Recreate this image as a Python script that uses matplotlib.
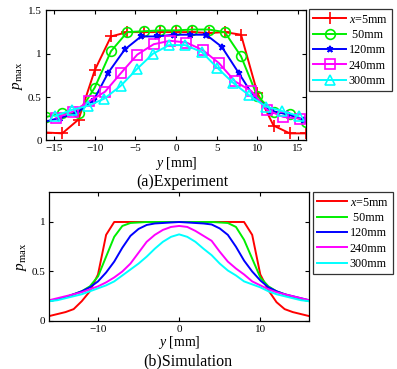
import matplotlib
matplotlib.use("Agg")
import matplotlib.pyplot as plt

plt.rcParams['font.family'] = ['Liberation Serif', 'DejaVu Serif']
plt.rcParams['mathtext.fontset'] = 'custom'
plt.rcParams['mathtext.rm'] = 'Liberation Serif'
plt.rcParams['mathtext.it'] = 'Liberation Serif:italic'

# ---------------- data: (a) experiment ----------------
labels = [r'$x$=5mm', ' 50mm', '120mm', '240mm', '300mm']

exp_y_5 = [-16, -14, -12, -10, -8, -6, -4, -2, 0, 2, 4, 6, 8, 10, 12, 14, 16]
exp_p_5 = [0.09, 0.08, 0.24, 0.81, 1.20, 1.25, 1.25, 1.25, 1.25, 1.25, 1.24, 1.25, 1.22, 0.55, 0.17, 0.08, 0.08]

exp_y_50 = [-16, -14, -12, -10, -8, -6, -4, -2, 0, 2, 4, 6, 8, 10, 12, 14, 16]
exp_p_50 = [0.27, 0.31, 0.31, 0.61, 1.03, 1.25, 1.26, 1.27, 1.27, 1.28, 1.28, 1.25, 0.97, 0.51, 0.33, 0.30, 0.21]

exp_y_120 = [-16.3, -14.3, -12.3, -10.1, -8.35, -6.3, -4.3, -2.3, -0.28, 1.76, 3.7, 5.63, 7.7, 9.6, 11.7, 13.7, 15.7]
exp_p_120 = [0.21, 0.26, 0.31, 0.47, 0.78, 1.05, 1.20, 1.20, 1.22, 1.22, 1.22, 1.08, 0.78, 0.50, 0.34, 0.30, 0.24]

exp_y_240 = [-14.73, -12.73, -10.7, -8.75, -6.75, -4.77, -2.75, -0.74, 1.27, 3.33, 5.3, 7.27, 9.25, 11.2, 13.2, 15.25]
exp_p_240 = [0.26, 0.33, 0.45, 0.56, 0.78, 0.99, 1.11, 1.15, 1.13, 1.04, 0.89, 0.68, 0.57, 0.35, 0.27, 0.25]

exp_y_300 = [-14.9, -12.86, -10.8, -8.85, -6.8, -4.85, -2.84, -0.86, 1.11, 3.17, 5.05, 7.07, 9.0, 11.06, 13.0, 15.08]
exp_p_300 = [0.28, 0.35, 0.40, 0.48, 0.63, 0.82, 1.00, 1.10, 1.10, 1.02, 0.84, 0.66, 0.52, 0.39, 0.34, 0.28]

# ---------------- data: (b) simulation ----------------
sim_y = [-16, -15, -14, -13, -12, -11, -10, -9, -8, -7, -6, -5, -4, -3, -2, -1, 0,
         1, 2, 3, 4, 5, 6, 7, 8, 9, 10, 11, 12, 13, 14, 15, 16]
sim_p_5 = [0.05, 0.07, 0.09, 0.12, 0.20, 0.30, 0.47, 0.87, 1.00, 1.00, 1.00, 1.00, 1.00, 1.00, 1.00, 1.00, 1.00,
           1.00, 1.00, 1.00, 1.00, 1.00, 1.00, 1.00, 1.00, 0.87, 0.47, 0.31, 0.19, 0.12, 0.09, 0.07, 0.05]
sim_p_50 = [0.20, 0.22, 0.24, 0.27, 0.30, 0.35, 0.45, 0.65, 0.85, 0.96, 0.99, 0.995, 1.00, 1.00, 1.00, 1.00, 1.00,
            1.00, 1.00, 1.00, 1.00, 0.995, 0.99, 0.95, 0.82, 0.63, 0.44, 0.35, 0.30, 0.27, 0.24, 0.22, 0.20]
sim_p_120 = [0.20, 0.22, 0.24, 0.27, 0.30, 0.34, 0.40, 0.49, 0.60, 0.74, 0.86, 0.93, 0.97, 0.985, 0.99, 0.995, 1.00,
             0.995, 0.99, 0.985, 0.975, 0.935, 0.87, 0.75, 0.61, 0.50, 0.41, 0.34, 0.30, 0.27, 0.25, 0.23, 0.21]
sim_p_240 = [0.21, 0.23, 0.25, 0.27, 0.29, 0.32, 0.35, 0.39, 0.44, 0.50, 0.58, 0.69, 0.80, 0.87, 0.92, 0.95, 0.96,
             0.95, 0.91, 0.86, 0.81, 0.70, 0.60, 0.53, 0.47, 0.40, 0.36, 0.32, 0.29, 0.27, 0.25, 0.23, 0.21]
sim_p_300 = [0.20, 0.21, 0.23, 0.25, 0.27, 0.30, 0.33, 0.36, 0.40, 0.46, 0.52, 0.58, 0.65, 0.73, 0.80, 0.85, 0.875,
             0.85, 0.80, 0.73, 0.665, 0.58, 0.51, 0.46, 0.40, 0.37, 0.34, 0.30, 0.27, 0.25, 0.23, 0.21, 0.20]

colors = ['#ff0000', '#00ee00', '#0000ff', '#ff00ff', '#00ffff']
markers = ['+', 'o', '*', 's', '^']
msizes = [8, 7, 5, 7, 7]

fig = plt.figure(figsize=(3.97, 3.69), dpi=100)

ax1 = fig.add_axes([0.1159, 0.6198, 0.655, 0.3518])
exp_sets = [(exp_y_5, exp_p_5), (exp_y_50, exp_p_50), (exp_y_120, exp_p_120),
            (exp_y_240, exp_p_240), (exp_y_300, exp_p_300)]
for (yy, pp), c, m, ms, lab in zip(exp_sets, colors, markers, msizes, labels):
    ax1.plot(yy, pp, color=c, marker=m, markersize=ms, markerfacecolor='none',
             markeredgecolor=c, markeredgewidth=1.2, linewidth=1.4, label=lab)
ax1.set_xlim(-16, 16)
ax1.set_ylim(0, 1.5)
ax1.set_xticks([-15, -10, -5, 0, 5, 10, 15])
ax1.set_yticks([0, 0.5, 1, 1.5])
ax1.set_yticklabels(['0', '0.5', '1', '1.5'])
ax1.set_xlabel(r'$y$ [mm]', fontsize=10, labelpad=1)
ax1.set_ylabel(r'$p_{\rm max}$', fontsize=11, labelpad=2)
leg1 = ax1.legend(loc='upper left', bbox_to_anchor=(0.779, 0.9748), bbox_transform=fig.transFigure,
                  borderaxespad=0, fontsize=8.7, frameon=True, fancybox=False, edgecolor='black',
                  handlelength=2.7, handletextpad=0.2, labelspacing=0.28, borderpad=0.35)
leg1.get_frame().set_linewidth(0.9)

ax2 = fig.add_axes([0.1242, 0.1301, 0.6541, 0.3488])
sim_sets = [sim_p_5, sim_p_50, sim_p_120, sim_p_240, sim_p_300]
for pp, c, lab in zip(sim_sets, colors, labels):
    ax2.plot(sim_y, pp, color=c, linewidth=1.4, label=lab)
ax2.set_xlim(-16, 16)
ax2.set_ylim(0, 1.3)
ax2.set_xticks([-10, 0, 10])
ax2.set_yticks([0, 0.5, 1])
ax2.set_yticklabels(['0', '0.5', '1'])
ax2.set_xlabel(r'$y$ [mm]', fontsize=10, labelpad=0)
ax2.set_ylabel(r'$p_{\rm max}$', fontsize=11, labelpad=2)
leg2 = ax2.legend(loc='upper left', bbox_to_anchor=(0.7877, 0.4789), bbox_transform=fig.transFigure,
                  borderaxespad=0, fontsize=8.7, frameon=True, fancybox=False, edgecolor='black',
                  handlelength=2.5, handletextpad=0.2, labelspacing=0.28, borderpad=0.35)
leg2.get_frame().set_linewidth(0.9)

for ax in (ax1, ax2):
    ax.tick_params(direction='in', top=True, right=True, length=3, width=0.8, labelsize=8, pad=3)
    for s in ax.spines.values():
        s.set_linewidth(0.9)

fig.text(182 / 397, 1 - 182 / 369, '(a)Experiment', ha='center', va='center', fontsize=11.5)
fig.text(188 / 397, 1 - 361 / 369, '(b)Simulation', ha='center', va='center', fontsize=11.5)

fig.savefig('out.png', dpi=100)
